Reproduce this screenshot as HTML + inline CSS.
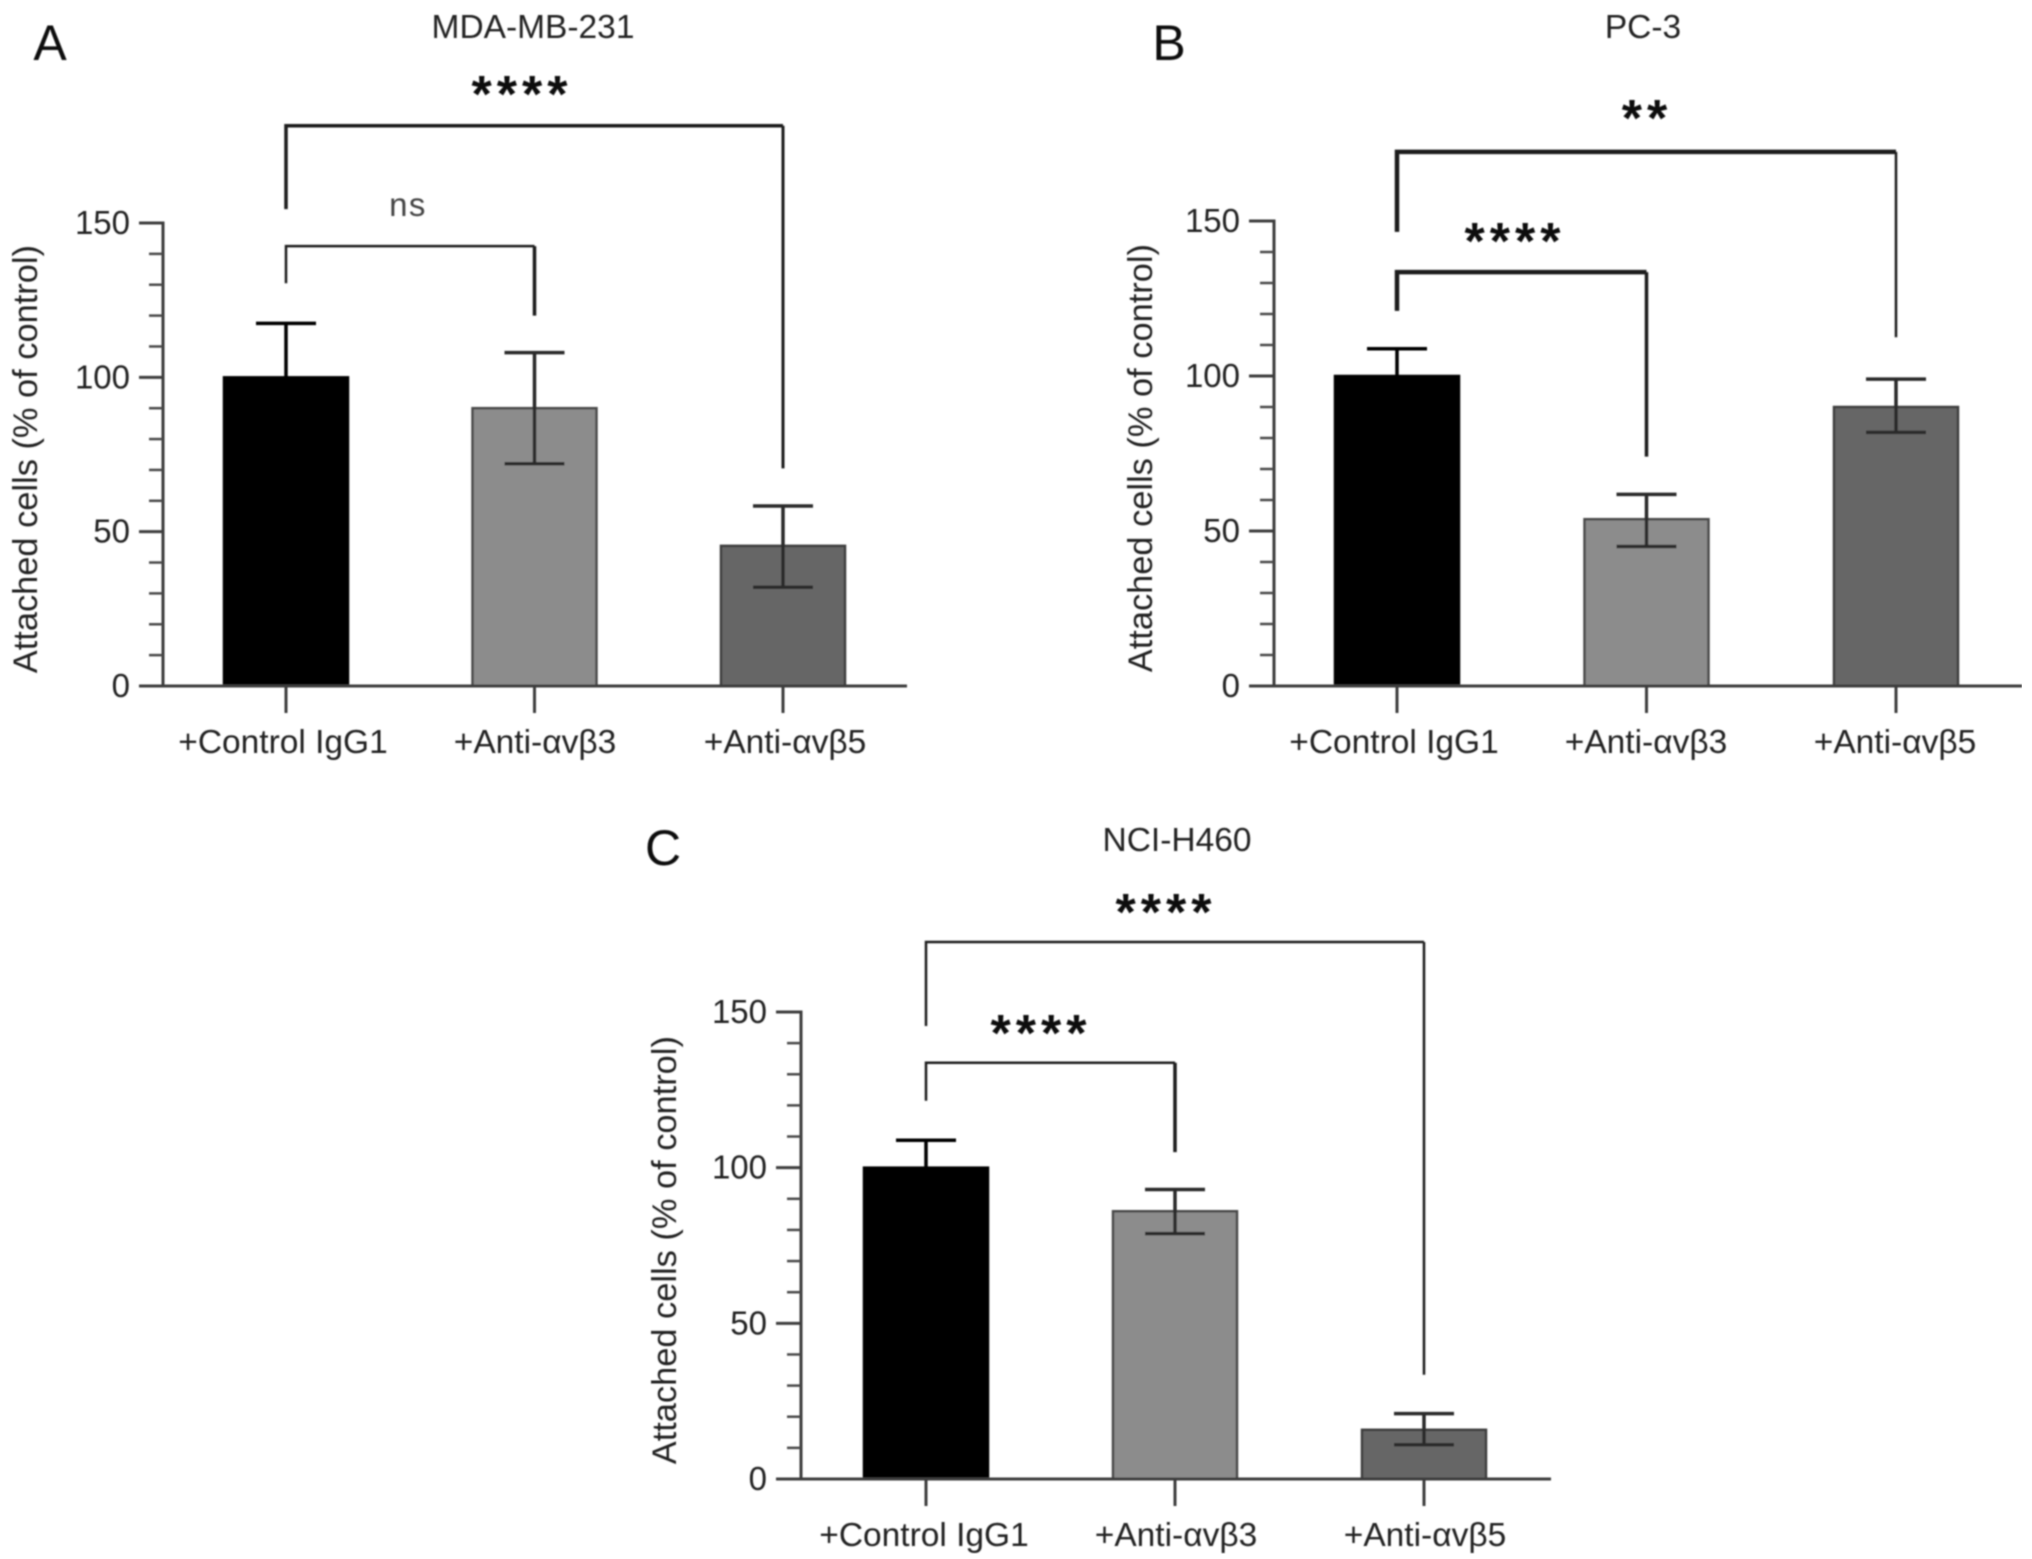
<!DOCTYPE html>
<html lang="en">
<head>
<meta charset="utf-8">
<title>Attached cells by integrin antibody</title>
<style>
  html, body { margin: 0; padding: 0; background: #fff; }
  #figure { display: block; width: 2032px; height: 1559px; }
  text { font-family: "Liberation Sans", "DejaVu Sans", sans-serif; fill: #202020; }
</style>
</head>
<body>
<svg id="figure" xmlns="http://www.w3.org/2000/svg" width="2032" height="1559" viewBox="0 0 2032 1559">
  <defs>
    <filter id="soft" x="0" y="0" width="100%" height="100%"><feGaussianBlur stdDeviation="0.85"/></filter>
  </defs>
  <rect width="2032" height="1559" fill="#fff"/>
  <g id="root" filter="url(#soft)"></g>
</svg>
<script>
// ---- data ----
const categories = ['+Control IgG1', '+Anti-\u03b1v\u03b23', '+Anti-\u03b1v\u03b25'];
const panelLetters = ['A', 'B', 'C'];
const cellLines = ['MDA-MB-231', 'PC-3', 'NCI-H460'];
const yAxisTitle = 'Attached cells (% of control)';
const yMajorTicks = [0, 50, 100, 150];
const yMinorTicks = [10, 20, 30, 40, 60, 70, 80, 90, 110, 120, 130, 140];

const meansA = [100, 90, 45.4];
const errHighA = [117.5, 108, 58.3];
const errLowA = [85, 72, 32];

const meansB = [100, 53.8, 90];
const errHighB = [108.8, 61.8, 99];
const errLowB = [91, 45, 81.8];

const meansC = [100, 86, 15.8];
const errHighC = [108.8, 93, 21];
const errLowC = [91, 78.8, 11];

// significance brackets, in data units: [from category, to category, bar level, left end, right end, label]
const bracketsA = [
  [0, 2, 181.5, 154.5, 70.5, '****'],
  [0, 1, 142.5, 130.5, 120, 'ns']
];
const bracketsB = [
  [0, 2, 172.3, 146.5, 112.5, '**'],
  [0, 1, 133.5, 121, 74, '****']
];
const bracketsC = [
  [0, 2, 172.5, 145.5, 33.5, '****'],
  [0, 1, 133.7, 121.5, 105, '****']
];

// ---- layout (pixels, separate from the data) ----
const frames = [
  { axisX: 163, y0: 686, y150: 223, xLeft: 139, xRight: 907, first: 286, step: 248.5, barW: 124,
    letterX: 50, letterY: 60, titleX: 533, titleY: 38, yTitleX: 37,
    labels: [[522, 112], [408, 216]], widths: [[3.5, 3], [2.5, 3.5]], labelXs: [283, 535, 785] },
  { axisX: 1274, y0: 686, y150: 221, xLeft: 1249, xRight: 2022, first: 1397, step: 249.5, barW: 124,
    letterX: 1169, letterY: 60, titleX: 1643, titleY: 38, yTitleX: 1152,
    labels: [[1647, 136], [1515, 259]], widths: [[4.5, 2.5], [4.5, 3.5]], labelXs: [1394, 1646, 1895] },
  { axisX: 801, y0: 1479, y150: 1012, xLeft: 776, xRight: 1551, first: 926, step: 249, barW: 124,
    letterX: 663, letterY: 865, titleX: 1177, titleY: 851, yTitleX: 676,
    labels: [[1166, 930], [1041, 1051]], widths: [[2.5, 2.5], [2.5, 3.5]], labelXs: [924, 1176, 1425] }
];
const barFills = ['#000000', '#8c8c8c', '#666666'];
const barStrokes = ['#000000', '#4a4a4a', '#3e3e3e'];
const errorStrokes = ['#000000', '#2b2b2b', '#2b2b2b'];

const meansAll = [meansA, meansB, meansC];
const errHighAll = [errHighA, errHighB, errHighC];
const errLowAll = [errLowA, errLowB, errLowC];
const bracketsAll = [bracketsA, bracketsB, bracketsC];

const SVGNS = 'http://www.w3.org/2000/svg';
const root = document.getElementById('root');

function make(parent, tag, attrs, content) {
  const node = document.createElementNS(SVGNS, tag);
  for (const k in attrs) node.setAttribute(k, attrs[k]);
  if (content !== undefined) node.textContent = content;
  parent.appendChild(node);
  return node;
}

function drawPanel(p) {
  const f = frames[p];
  const yScale = v => f.y0 - (v / 150) * (f.y0 - f.y150);
  const xScale = i => f.first + i * f.step;

  const g = make(root, 'g', {});
  
  

  let el = make(g, 'text', { x: f.letterX, y: f.letterY, 'text-anchor': 'middle', 'font-size': 50, style: 'fill:#111' }, panelLetters[p]);
  
  

  el = make(g, 'text', { x: f.titleX, y: f.titleY, 'text-anchor': 'middle', 'font-size': 33.5 }, cellLines[p]);
  
  

  el = make(g, 'text', { transform: 'translate(' + f.yTitleX + ',' + yScale(75 - 1.5) + ') rotate(-90)', 'text-anchor': 'middle', 'font-size': 34.4 }, yAxisTitle);
  
  

  // bars
  meansAll[p].forEach((v, i) => {
    const bar = make(g, 'rect', { x: xScale(i) - f.barW / 2, y: yScale(v), width: f.barW, height: f.y0 - yScale(v), fill: barFills[i], stroke: barStrokes[i], 'stroke-width': 2.5 });
    
    
  });

  // error bars
  meansAll[p].forEach((v, i) => {
    const hi = yScale(errHighAll[p][i]);
    const lo = yScale(errLowAll[p][i]);
    const x = xScale(i);
    const eb = make(g, 'path', { d: 'M' + (x - 30) + ' ' + hi + 'H' + (x + 30) + 'M' + x + ' ' + hi + 'V' + lo + 'M' + (x - 30) + ' ' + lo + 'H' + (x + 30), fill: 'none', stroke: errorStrokes[i], 'stroke-width': 3.5 });
    
    
  });

  // axes
  const yAxis = make(g, 'line', { x1: f.axisX, x2: f.axisX, y1: yScale(150) - 1.5, y2: f.y0, stroke: '#3c3c3c', 'stroke-width': 3 });
  
  

  const xAxis = make(g, 'line', { x1: f.xLeft, x2: f.xRight, y1: f.y0, y2: f.y0, stroke: '#3c3c3c', 'stroke-width': 3 });
  
  

  yMajorTicks.forEach(t => {
    const tick = make(g, 'line', { x1: f.xLeft, x2: f.axisX, y1: yScale(t), y2: yScale(t), stroke: '#3c3c3c', 'stroke-width': 3 });
    
    
    const label = make(g, 'text', { x: f.xLeft - 9, y: yScale(t) + 11, 'text-anchor': 'end', 'font-size': 33 }, String(t));
    
    
  });
  yMinorTicks.forEach(t => {
    const tick = make(g, 'line', { x1: f.axisX - 14, x2: f.axisX, y1: yScale(t), y2: yScale(t), stroke: '#4a4a4a', 'stroke-width': 2.5 });
    
    
  });
  categories.forEach((c, i) => {
    const tick = make(g, 'line', { x1: xScale(i), x2: xScale(i), y1: f.y0, y2: f.y0 + 27, stroke: '#3c3c3c', 'stroke-width': 3 });
    
    
    const label = make(g, 'text', { x: f.labelXs[i], y: f.y0 + 67, 'text-anchor': 'middle', 'font-size': 33.5 }, c);
    
    
  });

  // significance brackets
  bracketsAll[p].forEach((b, k) => {
    const x1 = xScale(b[0]);
    const x2 = xScale(b[1]);
    const w = f.widths[k];
    const top = make(g, 'path', { d: 'M' + x1 + ' ' + yScale(b[3]) + 'V' + yScale(b[2]) + 'H' + x2, fill: 'none', stroke: '#1c1c1c', 'stroke-width': w[0] });
    
    
    const leg = make(g, 'path', { d: 'M' + x2 + ' ' + yScale(b[2]) + 'V' + yScale(b[4]), fill: 'none', stroke: '#1c1c1c', 'stroke-width': w[1] });
    
    
    const isStars = b[5] !== 'ns';
    const attrs = { x: f.labels[k][0], y: f.labels[k][1], 'text-anchor': 'middle', 'font-size': isStars ? 52 : 33, 'font-weight': isStars ? 'bold' : 'normal', 'letter-spacing': isStars ? 5 : 1.5, style: isStars ? 'fill:#111' : 'fill:#444' };
    const mark = make(g, 'text', attrs, b[5]);
    
    
  });
}

panelLetters.forEach((_, p) => drawPanel(p));
</script>
</body>
</html>
